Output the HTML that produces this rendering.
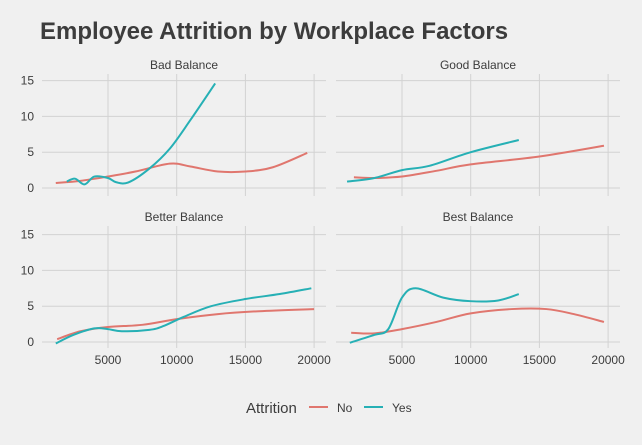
<!DOCTYPE html>
<html><head><meta charset="utf-8"><style>
body{margin:0;background:#f0f0f0;}
svg{display:block;font-family:"Liberation Sans",sans-serif;}
</style></head><body>
<svg id="chart" width="642" height="445">
<rect width="642" height="445" fill="#f0f0f0"/>
<text x="40" y="39" font-size="24" font-weight="bold" fill="#3c3c3c">Employee Attrition by Workplace Factors</text>
<g id="panels"></g>
<g>
<text x="246" y="413" font-size="15" fill="#3c3c3c">Attrition</text>
<line x1="309" y1="407" x2="328" y2="407" stroke="#e0766e" stroke-width="2"/>
<text x="337" y="412" font-size="12" fill="#3c3c3c">No</text>
<line x1="364" y1="407" x2="383" y2="407" stroke="#26b0b5" stroke-width="2"/>
<text x="392" y="412" font-size="12" fill="#3c3c3c">Yes</text>
</g>
</svg>
<script>
const panelTitles=["Bad Balance","Good Balance","Better Balance","Best Balance"];
const xTicks=[5000,10000,15000,20000];
const yTicks=[0,5,10,15];
const noSeries=[
[[1200,0.7],[3000,1.0],[5000,1.6],[7000,2.3],[9500,3.4],[11000,3.0],[13000,2.3],[15000,2.3],[17000,2.9],[19500,4.9]],
[[1500,1.5],[3000,1.4],[5000,1.6],[7500,2.4],[10000,3.3],[15000,4.4],[19700,5.9]],
[[1300,0.4],[3000,1.5],[5000,2.1],[7500,2.4],[10000,3.2],[13000,3.9],[16000,4.3],[20000,4.6]],
[[1300,1.3],[3000,1.2],[5000,1.8],[7500,2.8],[10000,4.0],[13000,4.6],[15500,4.6],[17500,3.9],[19700,2.8]]];
const yesSeries=[
[[2000,0.9],[2600,1.3],[3300,0.5],[4000,1.6],[5000,1.4],[5600,0.8],[6500,0.8],[8000,2.7],[9500,5.5],[11000,9.5],[12800,14.6]],
[[1000,0.9],[3000,1.4],[5000,2.5],[7000,3.1],[10000,5.0],[13500,6.7]],
[[1200,-0.2],[2500,1.0],[4000,1.9],[5000,1.8],[6000,1.5],[8000,1.7],[9000,2.2],[10500,3.5],[12500,5.0],[15000,6.0],[17500,6.7],[19800,7.5]],
[[1200,-0.1],[3000,1.0],[4000,1.8],[5000,6.2],[6000,7.5],[8000,6.2],[10000,5.7],[12000,5.8],[13500,6.7]]];
const NS="http://www.w3.org/2000/svg";
const g=document.getElementById('panels');
function mk(t,a,p){const e=document.createElementNS(NS,t);for(const k in a)e.setAttribute(k,a[k]);(p||g).appendChild(e);return e;}
const layout=[{x0:42,y0:74,ox:108-68.7,oy:188},{x0:336,y0:74,ox:402-68.7,oy:188},{x0:42,y0:226,ox:108-68.7,oy:342},{x0:336,y0:226,ox:402-68.7,oy:342}];
function path(pts){let d="M"+pts[0][0]+","+pts[0][1];for(let i=0;i<pts.length-1;i++){const p0=pts[i-1]||pts[i],p1=pts[i],p2=pts[i+1],p3=pts[i+2]||p2;
d+=" C"+(p1[0]+(p2[0]-p0[0])/6)+","+(p1[1]+(p2[1]-p0[1])/6)+" "+(p2[0]-(p3[0]-p1[0])/6)+","+(p2[1]-(p3[1]-p1[1])/6)+" "+p2[0]+","+p2[1];}return d;}
layout.forEach((L,i)=>{
 const sx=v=>L.ox+(v/5000)*68.7, sy=v=>L.oy-(v/5)*35.8;
 const pg=mk('g',{});
 
 
 const tt=mk('text',{x:L.x0+142,y:L.y0-5,'font-size':12,'text-anchor':'middle',fill:'#3c3c3c'},pg);tt.textContent=panelTitles[i];
 
 yTicks.forEach(v=>{const l=mk('line',{x1:L.x0,x2:L.x0+284,y1:sy(v),y2:sy(v),stroke:'#d2d2d2'},pg);
  
  if(i%2==0){const t=mk('text',{x:34,y:sy(v)+4,'font-size':12,'text-anchor':'end',fill:'#3c3c3c'},pg);t.textContent=v;
  }});
 xTicks.forEach(v=>{const l=mk('line',{x1:sx(v),x2:sx(v),y1:L.y0,y2:L.y0+122,stroke:'#d2d2d2'},pg);
  
  if(i>=2){const t=mk('text',{x:sx(v),y:364,'font-size':12,'text-anchor':'middle',fill:'#3c3c3c'},pg);t.textContent=v;
  }});
 [[noSeries[i],'#e0766e','line-no'],[yesSeries[i],'#26b0b5','line-yes']].forEach(s=>{
  const p=mk('path',{d:path(s[0].map(q=>[sx(q[0]),sy(q[1])])),fill:'none',stroke:s[1],'stroke-width':2},pg);
  });
});
</script>
</body></html>
